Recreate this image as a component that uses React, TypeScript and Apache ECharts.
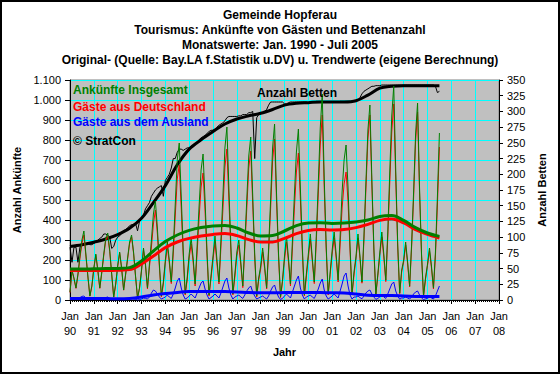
import React, { useEffect, useRef } from "react";
import * as echarts from "echarts";

const START_YEAR = 1990;

// Monthly arrivals total (Jan 1990 - Jul 2005)
const totalArrivals = [
  40, 150, 110, 60, 130, 220, 300, 345, 230, 120, 20, 70,
  160, 230, 150, 60, 140, 230, 310, 335, 250, 130, 15, 80,
  170, 240, 160, 50, 130, 210, 290, 325, 240, 120, 10, 60,
  150, 260, 180, 60, 180, 300, 430, 495, 360, 180, 20, 90,
  200, 290, 200, 90, 260, 480, 700, 785, 520, 250, 30, 110,
  230, 310, 210, 80, 270, 470, 650, 730, 500, 240, 25, 120,
  220, 320, 200, 90, 300, 520, 760, 865, 560, 270, 30, 130,
  240, 300, 190, 70, 280, 500, 720, 815, 520, 230, 20, 110,
  170, 260, 170, 60, 260, 500, 760, 880, 530, 230, 15, 100,
  220, 320, 210, 80, 300, 530, 740, 855, 560, 260, 25, 130,
  230, 330, 210, 90, 320, 580, 860, 1030, 610, 270, 30, 140,
  250, 340, 230, 100, 320, 540, 700, 775, 560, 270, 30, 140,
  220, 330, 220, 90, 320, 590, 850, 975, 600, 260, 30, 130,
  240, 340, 230, 100, 340, 640, 920, 1070, 650, 280, 35, 150,
  200, 290, 190, 70, 280, 540, 830, 985, 560, 230, 20, 110,
  180, 260, 170, 60, 240, 520, 835,
];

// Monthly arrivals from Germany
const germanArrivals = [
  37, 145, 106, 58, 124, 208, 282, 325, 220, 115, 19, 68,
  156, 224, 147, 58, 135, 222, 298, 320, 242, 126, 14, 77,
  167, 235, 157, 49, 126, 204, 281, 315, 234, 117, 10, 58,
  145, 250, 172, 55, 165, 265, 380, 450, 330, 165, 15, 80,
  185, 265, 185, 82, 230, 420, 605, 675, 460, 225, 25, 100,
  210, 280, 190, 70, 235, 410, 565, 635, 445, 215, 20, 108,
  200, 290, 180, 80, 265, 455, 665, 755, 500, 245, 25, 115,
  220, 275, 175, 62, 255, 455, 660, 745, 480, 210, 15, 100,
  155, 240, 158, 55, 240, 455, 695, 805, 490, 215, 12, 92,
  200, 290, 190, 70, 260, 460, 640, 735, 500, 235, 20, 115,
  210, 305, 195, 82, 290, 525, 775, 925, 560, 250, 25, 128,
  230, 310, 210, 90, 275, 460, 580, 640, 490, 245, 25, 125,
  205, 310, 208, 84, 300, 555, 805, 925, 570, 245, 27, 122,
  225, 315, 215, 92, 310, 585, 840, 980, 605, 260, 31, 140,
  190, 275, 180, 65, 265, 510, 790, 940, 535, 220, 18, 104,
  172, 245, 160, 55, 220, 475, 765,
];

// Monthly arrivals from abroad
const foreignArrivals = [
  3, 5, 4, 2, 6, 12, 18, 20, 10, 5, 1, 2,
  4, 6, 3, 2, 5, 8, 12, 15, 8, 4, 1, 3,
  3, 5, 3, 1, 4, 6, 9, 10, 6, 3, 0, 2,
  5, 10, 8, 5, 15, 35, 50, 45, 30, 15, 5, 10,
  15, 25, 15, 8, 30, 60, 95, 110, 60, 25, 5, 10,
  20, 30, 20, 10, 35, 60, 85, 95, 55, 25, 5, 12,
  20, 30, 20, 10, 35, 65, 95, 110, 60, 25, 5, 15,
  20, 25, 15, 8, 25, 45, 60, 70, 40, 20, 5, 10,
  15, 20, 12, 5, 20, 45, 65, 75, 40, 15, 3, 8,
  20, 30, 20, 10, 40, 70, 100, 120, 60, 25, 5, 15,
  20, 25, 15, 8, 30, 55, 85, 105, 50, 20, 5, 12,
  20, 30, 20, 10, 45, 80, 120, 135, 70, 25, 5, 15,
  15, 20, 12, 6, 20, 35, 45, 50, 30, 15, 3, 8,
  15, 25, 15, 8, 30, 55, 80, 90, 45, 20, 4, 10,
  10, 15, 10, 5, 15, 30, 40, 45, 25, 10, 2, 6,
  8, 15, 10, 5, 20, 45, 70,
];

// Monthly number of beds (right axis)
const beds = [
  84, 60, 84, 84, 60, 84, 86, 88, 90, 90, 88, 88,
  90, 92, 95, 98, 100, 105, 105, 103, 100, 82, 85, 95,
  100, 102, 106, 110, 112, 115, 118, 120, 120, 122, 110, 125,
  130, 135, 145, 150, 155, 165, 170, 175, 178, 180, 182, 165,
  190, 195, 200, 210, 225, 225, 235, 240, 240, 238, 240, 242,
  242, 245, 245, 248, 250, 255, 258, 260, 262, 265, 268, 270,
  270, 270, 275, 278, 280, 282, 285, 290, 292, 292, 292, 292,
  292, 293, 293, 295, 295, 295, 298, 298, 300, 225, 290, 295,
  296, 298, 300, 303, 310, 315, 315, 315, 315, 315, 315, 315,
  312, 312, 314, 315, 315, 315, 315, 315, 315, 315, 315, 315,
  314, 314, 315, 315, 316, 316, 316, 316, 315, 315, 315, 315,
  315, 315, 315, 315, 316, 316, 316, 316, 316, 316, 316, 316,
  316, 318, 322, 328, 332, 334, 336, 338, 340, 340, 341, 341,
  341, 342, 342, 342, 342, 342, 342, 342, 342, 342, 342, 342,
  342, 342, 342, 342, 342, 342, 342, 342, 342, 342, 342, 342,
  342, 342, 342, 342, 340, 330, 332,
];

// Trend values at half-year points
const trendYears = [
  1990, 1990.5, 1991, 1991.5, 1992, 1992.5, 1993, 1993.5, 1994, 1994.5,
  1995, 1995.5, 1996, 1996.5, 1997, 1997.5, 1998, 1998.5, 1999, 1999.5,
  2000, 2000.5, 2001, 2001.5, 2002, 2002.5, 2003, 2003.5, 2004, 2004.5,
  2005, 2005.5,
];
const totalTrend = [
  155, 155, 156, 157, 158, 162, 195, 245, 292, 325,
  348, 362, 370, 373, 360, 335, 320, 322, 345, 372,
  385, 386, 383, 385, 390, 400, 418, 422, 398, 362,
  335, 318,
];
const germanTrend = [
  147, 147, 148, 148, 149, 152, 180, 220, 262, 290,
  308, 320, 328, 332, 322, 302, 290, 290, 308, 332,
  348, 352, 350, 352, 362, 378, 398, 405, 385, 352,
  328, 310,
];
const foreignTrend = [
  8, 8, 7, 7, 6, 8, 15, 25, 32, 38,
  42, 43, 43, 42, 40, 37, 36, 36, 37, 38,
  38, 37, 36, 35, 30, 24, 22, 22, 20, 18,
  17, 17,
];
const bedsTrend = [
  85, 88, 92, 97, 104, 114, 130, 155, 182, 215,
  240, 255, 268, 280, 288, 293, 297, 303, 310, 313,
  314, 315, 315, 315, 317, 326, 337, 340, 341, 341,
  341, 341,
];

const titleLines = [
  "Gemeinde Hopferau",
  "Tourismus: Ankünfte von Gästen und Bettenanzahl",
  "Monatswerte: Jan. 1990 - Juli 2005",
  "Original- (Quelle: Bay.LA f.Statistik u.DV) u. Trendwerte (eigene Berechnung)",
];
const legendLabels = [
  { text: "Ankünfte Insgesamt", color: "#008000" },
  { text: "Gäste aus Deutschland", color: "#FF0000" },
  { text: "Gäste aus dem Ausland", color: "#0000FF" },
  { text: "© StratCon", color: "#000000" },
];

const FONT = "'Liberation Sans', Arial, sans-serif";

const monthly = (arr: number[]) =>
  arr.map((v, i) => [START_YEAR + i / 12, v]);
const trend = (arr: number[]) => arr.map((v, i) => [trendYears[i], v]);

export default function App() {
  const ref = useRef<HTMLDivElement>(null);
  useEffect(() => {
    if (!ref.current) return;
    const chart = echarts.init(ref.current, null, { renderer: "svg" });
    const thin = (name: string, data: any, color: string, yAxisIndex = 0) => ({
      name,
      type: "line",
      data,
      yAxisIndex,
      showSymbol: false,
      symbol: "none",
      lineStyle: { color, width: 1 },
      itemStyle: { color },
      silent: true,
    });
    const thick = (name: string, data: any, color: string, yAxisIndex = 0) => ({
      name,
      type: "line",
      data,
      yAxisIndex,
      smooth: 0.35,
      showSymbol: false,
      symbol: "none",
      lineStyle: { color, width: 3 },
      itemStyle: { color },
      silent: true,
    });
    const legendY = [90, 107, 122, 141];
    chart.setOption({
      animation: false,
      backgroundColor: "#ffffff",
      textStyle: { fontFamily: FONT },
      grid: {
        left: 70,
        right: 61,
        top: 80,
        bottom: 74,
        show: true,
        backgroundColor: "#C0C0C0",
        borderColor: "#808080",
        borderWidth: 1,
      },
      xAxis: {
        type: "value",
        min: 1990,
        max: 2008,
        interval: 1,
        name: "Jahr",
        nameLocation: "middle",
        nameGap: 46,
        nameTextStyle: { fontFamily: FONT, fontWeight: "bold", fontSize: 11, color: "#000" },
        axisLine: { show: true, onZero: false, lineStyle: { color: "#000", width: 1 } },
        axisTick: { show: true, length: 4, lineStyle: { color: "#000" } },
        minorTick: { show: true, splitNumber: 12, length: 2, lineStyle: { color: "#000" } },
        splitLine: { show: true, lineStyle: { color: "#00FFFF", width: 1 } },
        axisLabel: {
          fontFamily: FONT,
          fontSize: 11,
          color: "#000",
          margin: 8,
          lineHeight: 15,
          formatter: (v: number) => "Jan\n" + String(Math.round(v) % 100).padStart(2, "0"),
        },
      },
      yAxis: [
        {
          type: "value",
          min: 0,
          max: 1100,
          interval: 100,
          name: "Anzahl Ankünfte",
          nameLocation: "middle",
          nameGap: 39,
          nameTextStyle: { fontFamily: FONT, fontWeight: "bold", fontSize: 11, color: "#000" },
          axisLine: { show: true, lineStyle: { color: "#000" } },
          axisTick: { show: true, length: 5, lineStyle: { color: "#000" } },
          splitLine: { show: true, lineStyle: { color: "#00FFFF", width: 1 } },
          axisLabel: {
            fontFamily: FONT,
            fontSize: 11,
            color: "#000",
            margin: 9,
            formatter: (v: number) =>
              v >= 1000 ? Math.floor(v / 1000) + "." + String(v % 1000).padStart(3, "0") : String(v),
          },
        },
        {
          type: "value",
          min: 0,
          max: 350,
          interval: 25,
          position: "right",
          name: "Anzahl Betten",
          nameLocation: "middle",
          nameGap: 36,
          nameRotate: 90,
          nameTextStyle: { fontFamily: FONT, fontWeight: "bold", fontSize: 11, color: "#000" },
          axisLine: { show: true, lineStyle: { color: "#000" } },
          axisTick: { show: true, length: 4, lineStyle: { color: "#000" } },
          splitLine: { show: false },
          axisLabel: { fontFamily: FONT, fontSize: 11, color: "#000", margin: 8 },
        },
      ],
      series: [
        thin("Betten", monthly(beds), "#000000", 1),
        thick("Betten Trend", trend(bedsTrend), "#000000", 1),
        thin("Gäste aus Deutschland", monthly(germanArrivals), "#FF0000"),
        thin("Ankünfte Insgesamt", monthly(totalArrivals), "#008000"),
        thick("Deutschland Trend", trend(germanTrend), "#FF0000"),
        thick("Insgesamt Trend", trend(totalTrend), "#008000"),
        thin("Gäste aus dem Ausland", monthly(foreignArrivals), "#0000FF"),
        thick("Ausland Trend", trend(foreignTrend), "#0000FF"),
      ],
      graphic: [
        ...titleLines.map((t, i) => ({
          type: "text",
          x: 280,
          y: 14.5 + i * 15.2,
          style: {
            text: t,
            font: `bold 12px ${FONT}`,
            fill: "#000",
            align: "center",
            verticalAlign: "middle",
          },
        })),
        ...legendLabels.map((l, i) => ({
          type: "text",
          x: 73,
          y: legendY[i],
          z: 100,
          style: {
            text: l.text,
            font: `bold 12px ${FONT}`,
            fill: l.color,
            align: "left",
            verticalAlign: "middle",
          },
        })),
        {
          type: "text",
          x: 257,
          y: 93,
          z: 100,
          style: {
            text: "Anzahl Betten",
            font: `bold 12px ${FONT}`,
            fill: "#000",
            align: "left",
            verticalAlign: "middle",
          },
        },
        {
          type: "rect",
          shape: { x: 1, y: 1, width: 558, height: 372 },
          style: { fill: "none", stroke: "#000", lineWidth: 2 },
          z: 100,
        },
      ],
    });
    return () => chart.dispose();
  }, []);
  return (
    <div
      ref={ref}
      style={{ position: "fixed", left: 0, top: 0, width: 560, height: 374 }}
    />
  );
}
